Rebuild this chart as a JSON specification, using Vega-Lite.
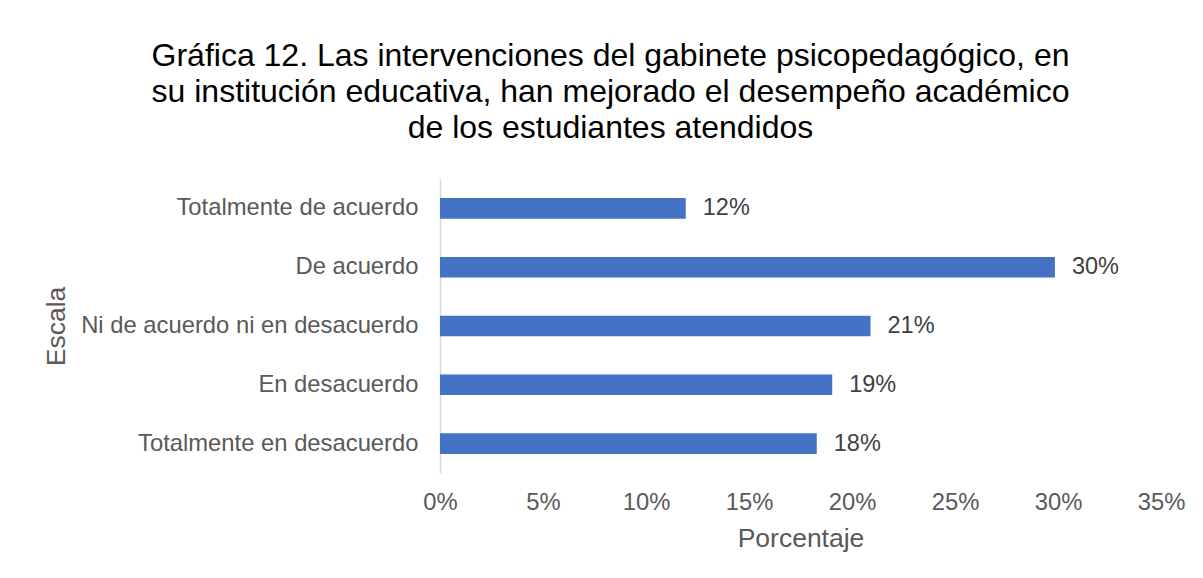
{
  "$schema": "https://vega.github.io/schema/vega-lite/v6.json",
  "autosize": "none",
  "width": 721,
  "height": 294,
  "padding": {"left": 440, "top": 179, "right": 42, "bottom": 105},
  "background": "white",
  "config": {
    "font": "Liberation Sans",
    "view": {"stroke": null}
  },
  "title": {
    "text": [
      "Gráfica 12. Las intervenciones del gabinete psicopedagógico, en",
      "su institución educativa, han mejorado el desempeño académico",
      "de los estudiantes atendidos"
    ],
    "fontSize": 32,
    "fontWeight": "normal",
    "color": "#000000",
    "lineHeight": 36,
    "anchor": "middle",
    "frame": "group",
    "dx": -190,
    "offset": 34
  },
  "data": {
    "values": [
      {"escala": "Totalmente de acuerdo", "porcentaje": 0.1193},
      {"escala": "De acuerdo", "porcentaje": 0.2985},
      {"escala": "Ni de acuerdo ni en desacuerdo", "porcentaje": 0.209},
      {"escala": "En desacuerdo", "porcentaje": 0.1904},
      {"escala": "Totalmente en desacuerdo", "porcentaje": 0.1829}
    ]
  },
  "encoding": {
    "y": {
      "field": "escala",
      "type": "nominal",
      "sort": null,
      "scale": {"paddingInner": 0.65, "paddingOuter": 0.325},
      "axis": {
        "title": "Escala",
        "titleFontSize": 26.5,
        "titleFontWeight": "normal",
        "titleColor": "#595959",
        "titleX": -384,
        "titleY": 147,
        "titleAngle": 270,
        "titleAlign": "center",
        "titleBaseline": "middle",
        "labelFontSize": 23.8,
        "labelColor": "#595959",
        "labelPadding": 22,
        "labelLimit": 500,
        "ticks": false,
        "domainColor": "#d9d9d9",
        "domainWidth": 1.5,
        "grid": false
      }
    },
    "x": {
      "field": "porcentaje",
      "type": "quantitative",
      "scale": {"domain": [0, 0.35], "nice": false},
      "axis": {
        "title": "Porcentaje",
        "titleFontSize": 26.5,
        "titleFontWeight": "normal",
        "titleColor": "#595959",
        "titlePadding": 12,
        "values": [0, 0.05, 0.1, 0.15, 0.2, 0.25, 0.3, 0.35],
        "format": ".0%",
        "labelFontSize": 23.8,
        "labelColor": "#595959",
        "labelPadding": 17,
        "labelFlush": false,
        "ticks": false,
        "domain": false,
        "grid": false
      }
    }
  },
  "layer": [
    {"mark": {"type": "bar", "color": "#4472C4"}},
    {
      "mark": {"type": "text", "align": "left", "baseline": "middle", "dx": 17, "fontSize": 23.5, "color": "#404040"},
      "encoding": {"text": {"field": "porcentaje", "type": "quantitative", "format": ".0%"}}
    }
  ]
}
